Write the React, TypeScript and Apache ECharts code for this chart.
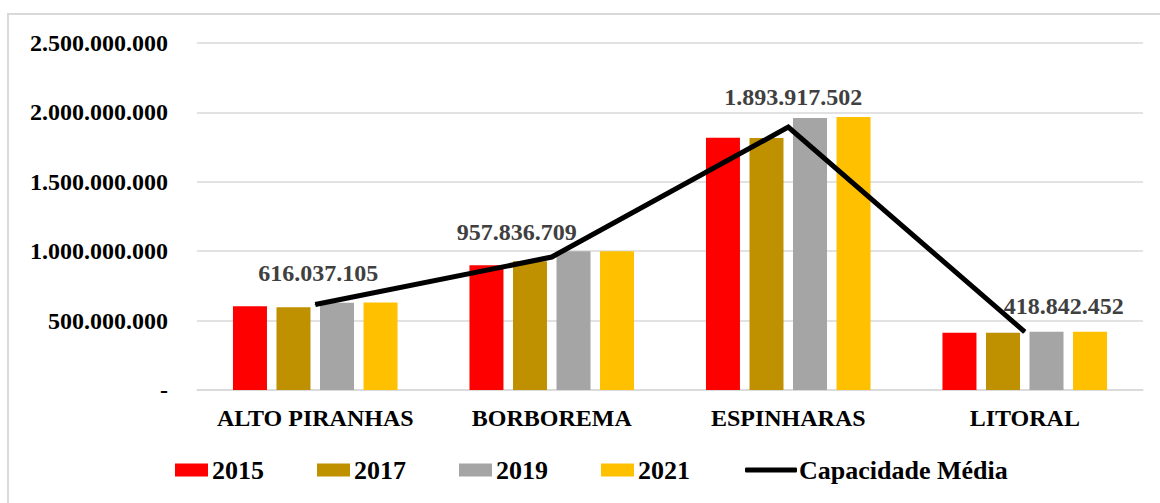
import React, { useEffect, useRef } from "react";
import * as echarts from "echarts";

const categories = ["ALTO PIRANHAS", "BORBOREMA", "ESPINHARAS", "LITORAL"];
const years = ["2015", "2017", "2019", "2021"];
const values2015 = [604000000, 899000000, 1818000000, 412000000];
const values2017 = [597000000, 928000000, 1815000000, 412000000];
const values2019 = [628000000, 1000000000, 1959000000, 420000000];
const values2021 = [631000000, 1000000000, 1966000000, 420000000];
const capacidadeMedia = [616037105, 957836709, 1893917502, 418842452];
const yTicks = { min: 0, max: 2500000000, interval: 500000000 };

const barColors = ["#FF0000", "#BF9000", "#A5A5A5", "#FFC000"];
const labelOffsets: [number, number][] = [[3, -19], [-35, -13], [5, -18], [39, -13]];

const FONT = "Liberation Serif, Times New Roman, serif";
const FS = 24;
const LFS = 26;

function fmt(v: number): string {
  if (v === 0) return "-";
  return Math.round(v).toString().replace(/\B(?=(\d{3})+(?!\d))/g, ".");
}

export default function App() {
  const ref = useRef<HTMLDivElement>(null);
  useEffect(() => {
    document.body.style.margin = "0";
    if (!ref.current) return;
    const chart = echarts.init(ref.current, undefined, { renderer: "svg" });
    const barData = [values2015, values2017, values2019, values2021];
    const barSeries = years.map((y, i) => ({
      name: y,
      type: "bar",
      data: barData[i],
      barWidth: 34,
      barGap: "28%",
      itemStyle: { color: barColors[i] },
      z: 2,
    }));
    const legendText = {
      color: "#000000",
      fontFamily: FONT,
      fontWeight: "bold",
      fontSize: LFS,
    };
    chart.setOption({
      animation: false,
      backgroundColor: "#ffffff",
      textStyle: { fontFamily: FONT },
      graphic: [
        {
          type: "rect",
          shape: { x: 8, y: 14, width: 1200, height: 600 },
          style: { fill: "none", stroke: "#D9D9D9", lineWidth: 2 },
          silent: true,
        },
      ],
      grid: { left: 197, right: 17, top: 43, bottom: 113, containLabel: false },
      xAxis: {
        type: "category",
        data: categories,
        axisLine: { show: true, lineStyle: { color: "#D9D9D9", width: 1.5 } },
        axisTick: { show: false },
        axisLabel: {
          interval: 0,
          color: "#000000",
          fontFamily: FONT,
          fontWeight: "bold",
          fontSize: FS,
          margin: 16,
        },
      },
      yAxis: {
        type: "value",
        min: yTicks.min,
        max: yTicks.max,
        interval: yTicks.interval,
        axisLine: { show: false },
        axisTick: { show: false },
        splitLine: { lineStyle: { color: "#D9D9D9", width: 1.5 } },
        axisLabel: {
          color: "#000000",
          fontFamily: FONT,
          fontWeight: "bold",
          fontSize: FS,
          margin: 29,
          formatter: (v: number) => fmt(v),
        },
      },
      legend: [
        {
          data: years,
          top: 457,
          left: 175,
          padding: 0,
          itemWidth: 33,
          itemHeight: 13,
          itemGap: 53,
          icon: "rect",
          textStyle: { ...legendText, padding: [0, 0, 0, -1] },
        },
        {
          data: [{ name: "Capacidade Média", icon: "roundRect" }],
          top: 457,
          left: 745,
          padding: 0,
          itemWidth: 52,
          itemHeight: 5,
          textStyle: { ...legendText, padding: [0, 0, 0, -3] },
        },
      ],
      series: [
        ...barSeries,
        {
          name: "Capacidade Média",
          type: "line",
          data: capacidadeMedia.map((v, i) => ({
            value: v,
            label: { offset: labelOffsets[i] },
          })),
          symbol: "circle",
          symbolSize: 1,
          showSymbol: true,
          lineStyle: { color: "#000000", width: 5, join: "miter" },
          itemStyle: { color: "#000000" },
          z: 5,
          label: {
            show: true,
            position: "top",
            distance: 0,
            color: "#404040",
            fontFamily: FONT,
            fontWeight: "bold",
            fontSize: FS,
            formatter: (p: any) => fmt(p.value),
          },
        },
      ],
    });
    return () => chart.dispose();
  }, []);
  return <div ref={ref} style={{ width: 1160, height: 503 }} />;
}
